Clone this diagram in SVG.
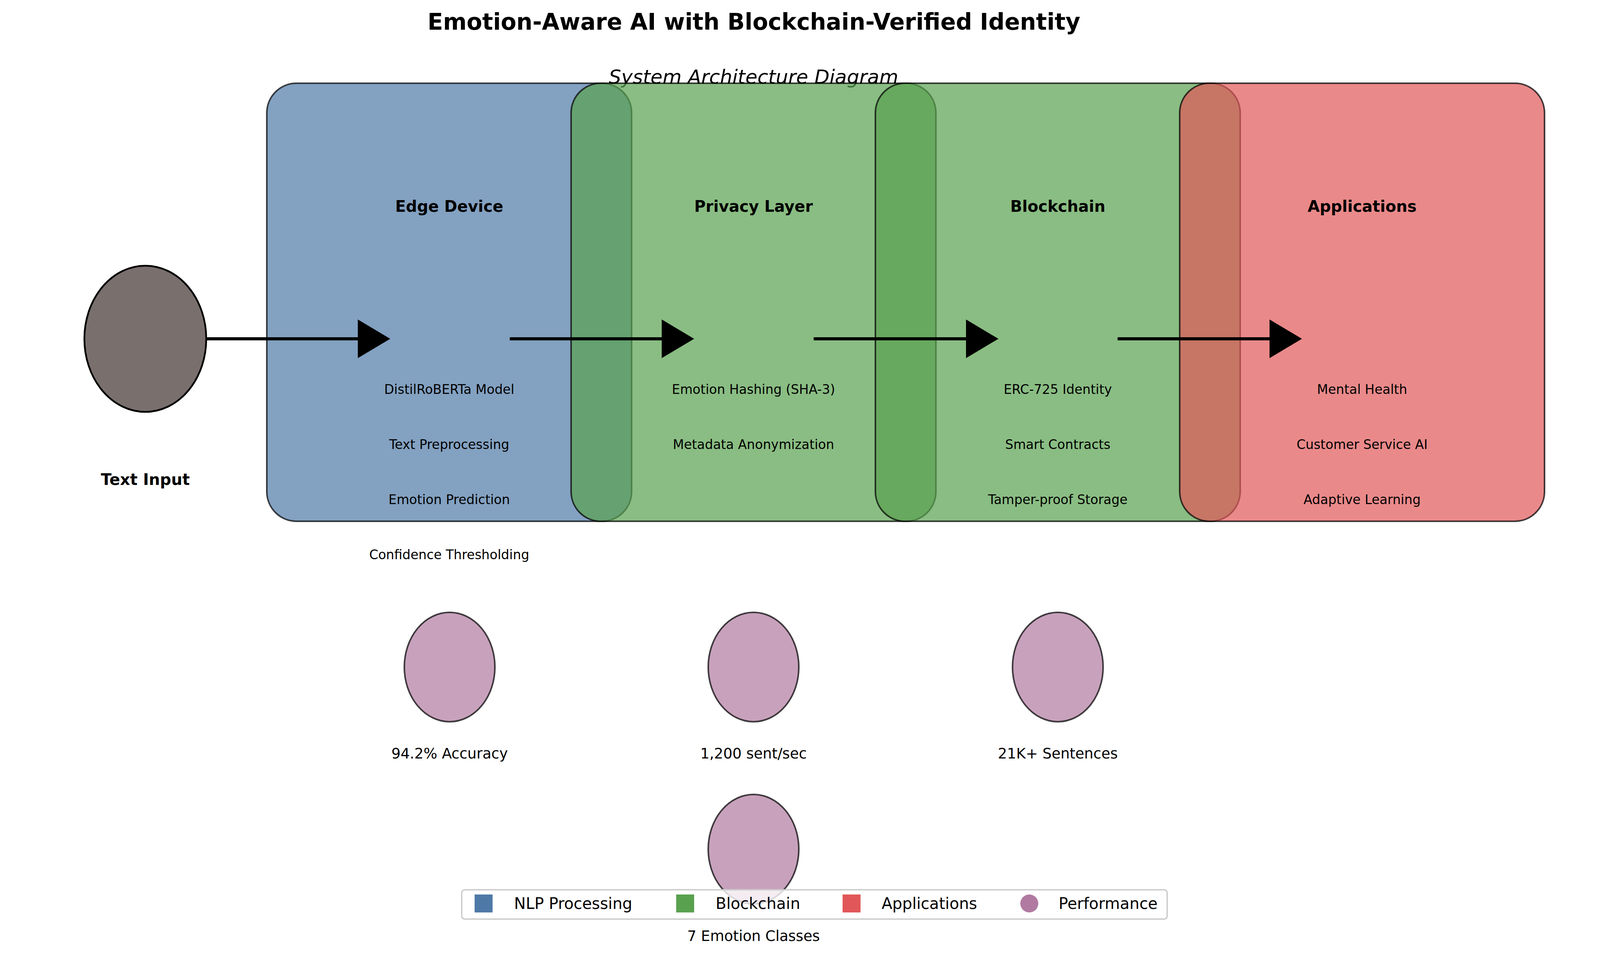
<svg xmlns="http://www.w3.org/2000/svg" width="4170" height="2449" viewBox="0 0 4170 2449">
<style>
.t{font-family:"DejaVu Sans","Liberation Sans",sans-serif;fill:#000;text-anchor:middle}
.title{font-weight:bold;font-size:58px}
.sub{font-style:italic;font-size:50px}
.h{font-weight:bold;font-size:40px}
.i{font-size:33px}
.p{font-size:37px}
.lg{font-size:40px;text-anchor:start}
.box{fill-opacity:.7;stroke:#000;stroke-opacity:.72;stroke-width:4}
.perf{fill:#B07AA1;fill-opacity:.7;stroke:#000;stroke-opacity:.72;stroke-width:4}
.conn{stroke:#000;stroke-width:8;fill:none}
</style>
<defs>
<marker id="ah" markerUnits="userSpaceOnUse" markerWidth="84" markerHeight="100" refX="0" refY="49.5" orient="auto" viewBox="0 0 84 100">
<path d="M0,0 L83,49.5 L0,99 Z" fill="#000"/>
</marker>
</defs>
<rect width="4170" height="2449" fill="#fff"/>
<text class="t title" x="1930" y="76">Emotion-Aware AI with Blockchain-Verified Identity</text>
<text class="t sub" x="1929" y="214">System Architecture Diagram</text>

<g id="edge-device">
<rect class="box" x="683" y="213" width="934" height="1121" rx="76" ry="76" fill="#4E79A7"/>
</g>
<g id="privacy-layer">
<rect class="box" x="1462" y="213" width="934" height="1121" rx="76" ry="76" fill="#59A14F"/>
</g>
<g id="blockchain">
<rect class="box" x="2241" y="213" width="934" height="1121" rx="76" ry="76" fill="#59A14F"/>
</g>
<g id="applications">
<rect class="box" x="3020" y="213" width="934" height="1121" rx="76" ry="76" fill="#E15759"/>
</g>

<g id="connectors">
<line class="conn" x1="528" y1="867" x2="916" y2="867" marker-end="url(#ah)"/>
<line class="conn" x1="1305" y1="867" x2="1694" y2="867" marker-end="url(#ah)"/>
<line class="conn" x1="2083" y1="867" x2="2473" y2="867" marker-end="url(#ah)"/>
<line class="conn" x1="2861" y1="867" x2="3250" y2="867" marker-end="url(#ah)"/>
</g>

<g id="text-input">
<ellipse cx="372" cy="867" rx="156" ry="187" fill="#79706E" stroke="#000" stroke-width="4.5"/>
<text class="t h" x="372" y="1241">Text Input</text>
</g>

<g id="edge-device-text">
<text class="t h" x="1150" y="542">Edge Device</text>
<text class="t i" x="1150" y="1008">DistilRoBERTa Model</text>
<text class="t i" x="1150" y="1149">Text Preprocessing</text>
<text class="t i" x="1150" y="1290">Emotion Prediction</text>
<text class="t i" x="1150" y="1431">Confidence Thresholding</text>
</g>
<g id="privacy-layer-text">
<text class="t h" x="1929" y="542">Privacy Layer</text>
<text class="t i" x="1929" y="1008">Emotion Hashing (SHA-3)</text>
<text class="t i" x="1929" y="1149">Metadata Anonymization</text>
</g>
<g id="blockchain-text">
<text class="t h" x="2708" y="542">Blockchain</text>
<text class="t i" x="2708" y="1008">ERC-725 Identity</text>
<text class="t i" x="2708" y="1149">Smart Contracts</text>
<text class="t i" x="2708" y="1290">Tamper-proof Storage</text>
</g>
<g id="applications-text">
<text class="t h" x="3487" y="542">Applications</text>
<text class="t i" x="3487" y="1008">Mental Health</text>
<text class="t i" x="3487" y="1149">Customer Service AI</text>
<text class="t i" x="3487" y="1290">Adaptive Learning</text>
</g>

<g id="perf-accuracy">
<ellipse class="perf" cx="1151" cy="1707" rx="116" ry="140"/>
<text class="t p" x="1151" y="1941">94.2% Accuracy</text>
</g>
<g id="perf-speed">
<ellipse class="perf" cx="1929" cy="1707" rx="116" ry="140"/>
<text class="t p" x="1929" y="1941">1,200 sent/sec</text>
</g>
<g id="perf-dataset">
<ellipse class="perf" cx="2708" cy="1707" rx="116" ry="140"/>
<text class="t p" x="2708" y="1941">21K+ Sentences</text>
</g>
<g id="perf-classes">
<ellipse class="perf" cx="1929" cy="2173" rx="116" ry="140"/>
<text class="t p" x="1929" y="2408">7 Emotion Classes</text>
</g>

<g id="legend">
<rect x="1182" y="2277" width="1806" height="75" rx="8" ry="8" fill="#fff" fill-opacity=".8" stroke="#cccccc" stroke-width="3.5"/>
<rect x="1215" y="2289" width="46" height="46" fill="#4E79A7"/>
<text class="t lg" x="1316" y="2326">NLP Processing</text>
<rect x="1731" y="2289" width="46" height="46" fill="#59A14F"/>
<text class="t lg" x="1832" y="2326">Blockchain</text>
<rect x="2157" y="2289" width="46" height="46" fill="#E15759"/>
<text class="t lg" x="2257" y="2326">Applications</text>
<circle cx="2635" cy="2312" r="23" fill="#B07AA1"/>
<text class="t lg" x="2710" y="2326">Performance</text>
</g>
</svg>
